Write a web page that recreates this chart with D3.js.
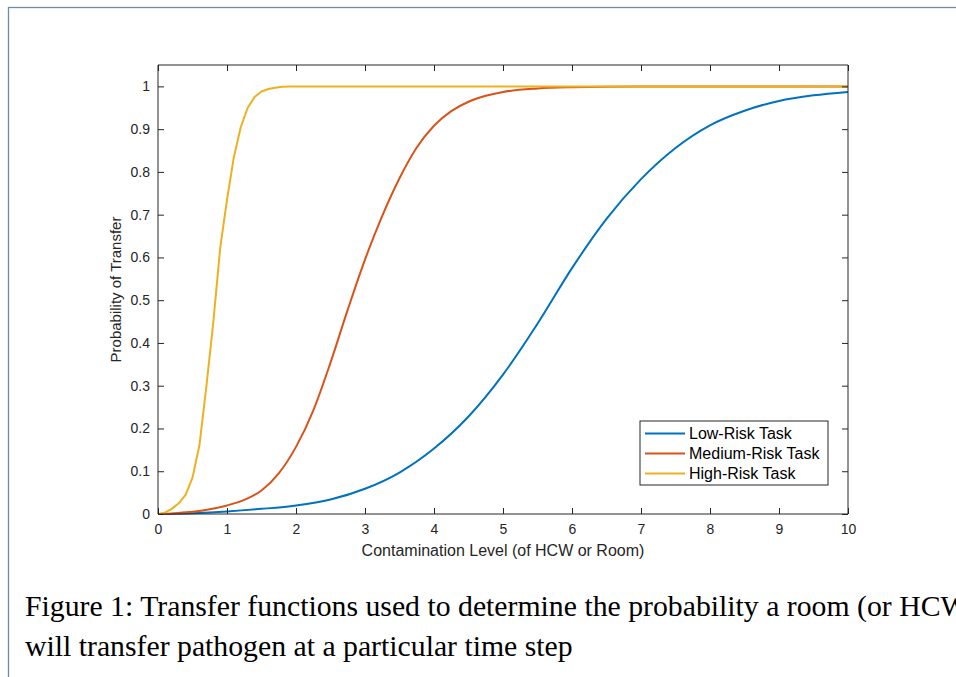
<!DOCTYPE html>
<html lang="en">
<head>
<meta charset="utf-8">
<title>Transfer functions</title>
<script src="https://cdn.jsdelivr.net/npm/d3@7"></script>
<style>
  body { margin: 0; background: #fff; }
  .tick text { font-family: "Liberation Sans", Arial, sans-serif; font-size: 14px; fill: #262626; }
  .axis-title { font-family: "Liberation Sans", Arial, sans-serif; font-size: 15px; fill: #262626; }
  .legend-text { font-family: "Liberation Sans", Arial, sans-serif; font-size: 16px; fill: #000; }
  .caption { font-family: "Liberation Serif", "DejaVu Serif", serif; fill: #000; }
</style>
</head>
<body>
<div id="chart"></div>
<script>
// series
var lowX = [0, 0.5, 1, 1.5, 2, 2.5, 3, 3.5, 4, 4.5, 5, 5.5, 6, 6.5, 7, 7.5, 8, 8.5, 9, 9.5, 10];
var lowY = [0, 0.002, 0.006, 0.012, 0.02, 0.034, 0.059, 0.097, 0.153, 0.228, 0.326, 0.445, 0.575, 0.69, 0.783, 0.856, 0.909, 0.943, 0.966, 0.979, 0.987];

var medX = [0, 0.25, 0.5, 0.75, 1, 1.25, 1.5, 1.75, 2, 2.25, 2.5, 2.75, 3, 3.25, 3.5, 3.75, 4, 4.25, 4.5, 4.75, 5, 5.5, 6, 7, 8, 9, 10];
var medY = [0, 0.002, 0.005, 0.011, 0.02, 0.033, 0.055, 0.095, 0.157, 0.242, 0.354, 0.478, 0.595, 0.697, 0.785, 0.857, 0.908, 0.942, 0.964, 0.978, 0.987, 0.995, 0.998, 1, 1, 1, 1];

var highX = [0, 0.1, 0.2, 0.3, 0.4, 0.5, 0.6, 0.7, 0.8, 0.9, 1, 1.1, 1.2, 1.3, 1.4, 1.5, 1.6, 1.7, 1.8, 1.9, 2, 3, 4, 5, 6, 7, 8, 9, 10];
var highY = [0, 0.003, 0.012, 0.025, 0.045, 0.085, 0.16, 0.297, 0.446, 0.62, 0.735, 0.835, 0.905, 0.95, 0.975, 0.988, 0.994, 0.997, 0.999, 1, 1, 1, 1, 1, 1, 1, 1, 1, 1];

var seriesNames = ["Low-Risk Task", "Medium-Risk Task", "High-Risk Task"];
var seriesColors = ["#0072BD", "#D95319", "#EDB120"];

var xTicks = [0, 1, 2, 3, 4, 5, 6, 7, 8, 9, 10];
var yTicks = [0, 0.1, 0.2, 0.3, 0.4, 0.5, 0.6, 0.7, 0.8, 0.9, 1];

var captionLines = [
  "Figure 1: Transfer functions used to determine the probability a room (or HCW)",
  "will transfer pathogen at a particular time step"
];

var W = 956, H = 677;
var plot = {left: 158, right: 848, top: 65, bottom: 514};

var svg = d3.select("#chart").append("svg")
  .attr("width", W)
  .attr("height", H);

// page frame
svg.append("rect")
  .attr("x", 8.5).attr("y", 7.5)
  .attr("width", W + 20).attr("height", H + 20)
  .attr("fill", "none")
  .attr("stroke", "#7189aa")
  .attr("stroke-width", 1.3);

var x = d3.scaleLinear().domain([0, 10]).range([plot.left, plot.right]);
var y = d3.scaleLinear().domain([0, 1.05]).range([plot.bottom, plot.top]);

var series = [
  {name: seriesNames[0], xs: lowX, ys: lowY, curve: d3.curveMonotoneX},
  {name: seriesNames[1], xs: medX, ys: medY, curve: d3.curveMonotoneX},
  {name: seriesNames[2], xs: highX, ys: highY, curve: d3.curveLinear}
];

// lines
series.forEach(function(s, i) {
  var pts = s.xs.map(function(v, j) { return [v, s.ys[j]]; });
  var line = d3.line()
    .x(function(d) { return x(d[0]); })
    .y(function(d) { return y(d[1]); })
    .curve(s.curve);
  svg.append("path")
    .datum(pts)
    .attr("fill", "none")
    .attr("stroke", seriesColors[i])
    .attr("stroke-width", 2)
    .attr("stroke-linejoin", "round")
    .attr("d", line);
});

// axes, ticks inward like matlab
var tickLen = 6;
var axisColor = "#262626";

var xAxis = svg.append("g")
  .attr("transform", "translate(0," + plot.bottom + ")")
  .call(d3.axisBottom(x).tickValues(xTicks).tickSize(-tickLen).tickPadding(10).tickFormat(d3.format("d")));
var xTop = svg.append("g")
  .attr("transform", "translate(0," + plot.top + ")")
  .call(d3.axisTop(x).tickValues(xTicks).tickSize(-tickLen).tickFormat(""));
var yAxis = svg.append("g")
  .attr("transform", "translate(" + plot.left + ",0)")
  .call(d3.axisLeft(y).tickValues(yTicks).tickSize(-tickLen).tickPadding(8).tickFormat(function(d) { return d3.format("~g")(d); }));
var yRight = svg.append("g")
  .attr("transform", "translate(" + plot.right + ",0)")
  .call(d3.axisRight(y).tickValues(yTicks).tickSize(-tickLen).tickFormat(""));

[xAxis, xTop, yAxis, yRight].forEach(function(g) {
  g.select(".domain").attr("stroke", axisColor).attr("stroke-width", 1);
  g.selectAll(".tick line").attr("stroke", axisColor).attr("stroke-width", 1);
});
// the matlab box: make sure outer domain lines close fully
[xAxis, xTop].forEach(function(g) {
  g.select(".domain").attr("d", "M" + plot.left + ",0H" + plot.right);
});
[yAxis, yRight].forEach(function(g) {
  g.select(".domain").attr("d", "M0," + plot.top + "V" + plot.bottom);
});

// axis titles
svg.append("text")
  .attr("class", "axis-title")
  .attr("x", (plot.left + plot.right) / 2)
  .attr("y", 556)
  .attr("text-anchor", "middle")
  .style("font-size", "16px")
  .text("Contamination Level (of HCW or Room)");

svg.append("text")
  .attr("class", "axis-title")
  .attr("transform", "translate(121," + ((plot.top + plot.bottom) / 2) + ") rotate(-90)")
  .attr("text-anchor", "middle")
  .text("Probability of Transfer");

// legend
var legend = svg.append("g").attr("transform", "translate(640,421)");
legend.append("rect")
  .attr("width", 188).attr("height", 64)
  .attr("fill", "#fff")
  .attr("stroke", axisColor)
  .attr("stroke-width", 1);
seriesNames.forEach(function(name, i) {
  var ly = 12.5 + i * 20;
  legend.append("line")
    .attr("x1", 5).attr("x2", 45)
    .attr("y1", ly).attr("y2", ly)
    .attr("stroke", seriesColors[i])
    .attr("stroke-width", 2);
  legend.append("text")
    .attr("class", "legend-text")
    .attr("x", 49)
    .attr("y", ly + 5.5)
    .text(name);
});

// caption
var cap = svg.append("g");
var line2 = cap.append("text")
  .attr("class", "caption")
  .attr("x", 25).attr("y", 656)
  .style("font-size", "23px")
  .text(captionLines[1]);
var fs = 23 * 548 / line2.node().getComputedTextLength();
line2.style("font-size", fs + "px");
cap.append("text")
  .attr("class", "caption")
  .attr("x", 25).attr("y", 616)
  .style("font-size", fs + "px")
  .text(captionLines[0]);
</script>
</body>
</html>
